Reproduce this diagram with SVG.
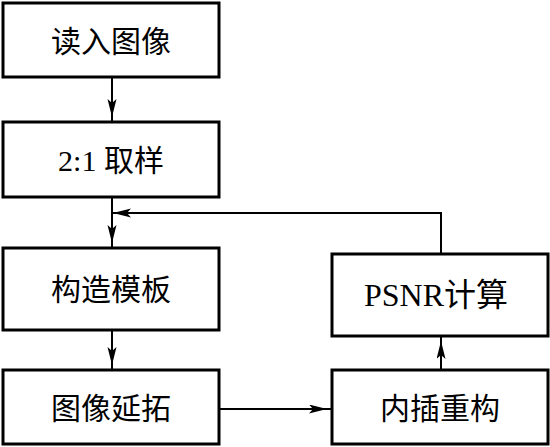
<svg xmlns="http://www.w3.org/2000/svg" width="550" height="447" viewBox="0 0 550 447">
<defs>
<style>
.box{fill:#fff;stroke:#000;stroke-width:3}
.t{font-family:"Liberation Serif","Noto Sans CJK SC",serif;font-size:30px;text-anchor:middle;dominant-baseline:central;fill:#000}
.c{fill:none;stroke:#000;stroke-width:2}
</style>
<marker id="a" markerUnits="userSpaceOnUse" markerWidth="26" markerHeight="10" refX="23" refY="4.5" orient="auto">
<path d="M0,0 L18,4.5 L0,9 L4,4.5 z" fill="#000"/>
</marker>
<marker id="b" markerUnits="userSpaceOnUse" markerWidth="26" markerHeight="10" refX="19" refY="4.5" orient="auto">
<path d="M0,0 L18,4.5 L0,9 L4,4.5 z" fill="#000"/>
</marker>
</defs>
<g id="connectors">
<line class="c" x1="112" y1="77" x2="112" y2="122" marker-end="url(#a)"/>
<line class="c" x1="112" y1="197" x2="112" y2="248" marker-end="url(#a)"/>
<line class="c" x1="112" y1="330" x2="112" y2="370" marker-end="url(#a)"/>
<line class="c" x1="219" y1="409" x2="332" y2="409" marker-end="url(#a)"/>
<line class="c" x1="441" y1="370" x2="441" y2="336" marker-end="url(#a)"/>
<polyline class="c" points="441,254 441,213 112,213" marker-end="url(#b)"/>
</g>
<g id="n1"><rect class="box" x="3" y="3" width="216" height="74"/><text class="t" x="111" y="41">读入图像</text></g>
<g id="n2"><rect class="box" x="3" y="122" width="216" height="75"/><text class="t" x="111" y="160">2:1 取样</text></g>
<g id="n3"><rect class="box" x="3" y="248" width="216" height="82"/><text class="t" x="111" y="289">构造模板</text></g>
<g id="n4"><rect class="box" x="3" y="370" width="216" height="74"/><text class="t" x="111" y="408">图像延拓</text></g>
<g id="n5"><rect class="box" x="332" y="254" width="216" height="82"/><text class="t" x="436" y="295" style="font-size:32px">PSNR计算</text></g>
<g id="n6"><rect class="box" x="332" y="370" width="216" height="74"/><text class="t" x="440" y="408">内插重构</text></g>
</svg>
